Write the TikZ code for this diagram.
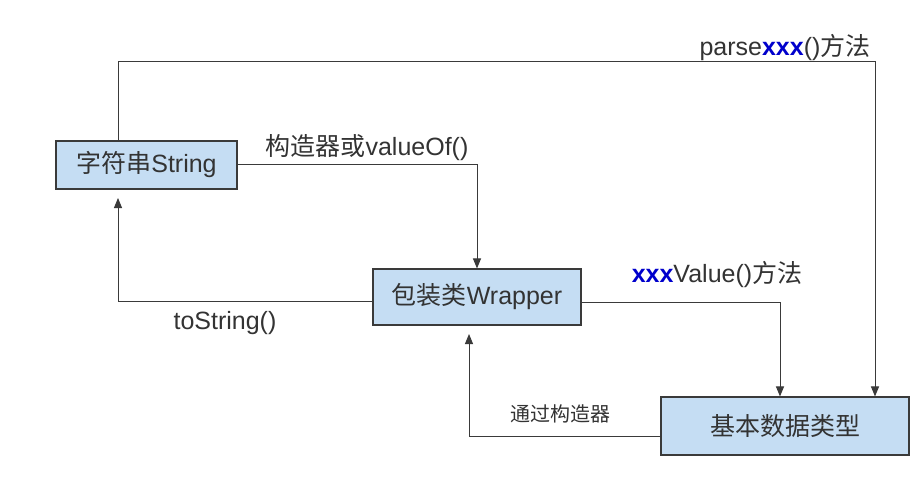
\documentclass[tikz,border=0pt]{standalone}
\usepackage{fontspec}
\setmainfont{Liberation Sans}
\newfontfamily\cjk{Noto Sans CJK SC}
\usetikzlibrary{arrows.meta}
\definecolor{boxfill}{HTML}{C5DDF3}
\definecolor{linedark}{HTML}{3A3A3A}
\definecolor{txt}{HTML}{333333}
\definecolor{xblue}{HTML}{0000CC}
\begin{document}
\begin{tikzpicture}[x=1pt,y=-1pt,
  box/.style={draw=linedark, fill=boxfill, line width=1.1pt, inner sep=0pt, text=txt,
    font=\fontsize{25}{29}\selectfont},
  conn/.style={draw=linedark, line width=1pt},
  arr/.style={conn, -{Triangle[length=10pt,width=8pt]}},
  lbl/.style={text=txt, inner sep=0pt, font=\fontsize{25}{29}\selectfont},
  slbl/.style={text=txt, inner sep=0pt, font=\fontsize{20}{23}\selectfont}]
\useasboundingbox (0,0) rectangle (924,500);
\fill[white] (0,0) rectangle (924,500);
\node[box, minimum width=181pt, minimum height=48pt] (str) at (146.5,165) {\cjk 字符串\rmfamily String};
\node[box, minimum width=208pt, minimum height=56pt] (wrap) at (477,297) {\cjk 包装类\rmfamily Wrapper};
\node[box, minimum width=248pt, minimum height=58pt] (basic) at (785,426) {\cjk 基本数据类型};
\coordinate (pA) at (118,62);
\coordinate (pB) at (875,62);
\coordinate (tsEnd) at (118,198);
\coordinate (ctEnd) at (469,334);
% parse
\draw[arr] (str.north -| pA) -- (pA) -- (pB) -- (basic.north -| pB);
% valueOf
\draw[arr] (str.east) -| (wrap.north);
% toString
\draw[arr] (wrap.west |- 0,301) -| (tsEnd);
% xxxValue
\draw[arr] (wrap.east |- 0,302) -| (basic.north -| 780,0);
% constructor
\draw[arr] (basic.west |- 0,436) -| (ctEnd);
\node[lbl] (lparse) at (785,48) {parse\textbf{\textcolor{xblue}{xxx}}()\cjk 方法};
\node[lbl] (lvalof) at (367,148) {\cjk 构造器或\rmfamily valueOf()};
\node[lbl] (lxv) at (717,275) {\textbf{\textcolor{xblue}{xxx}}Value()\cjk 方法};
\node[lbl] (lts) at (225,323) {toString()};
\node[slbl] (lct) at (560,414) {\cjk 通过构造器};
\end{tikzpicture}
\end{document}
